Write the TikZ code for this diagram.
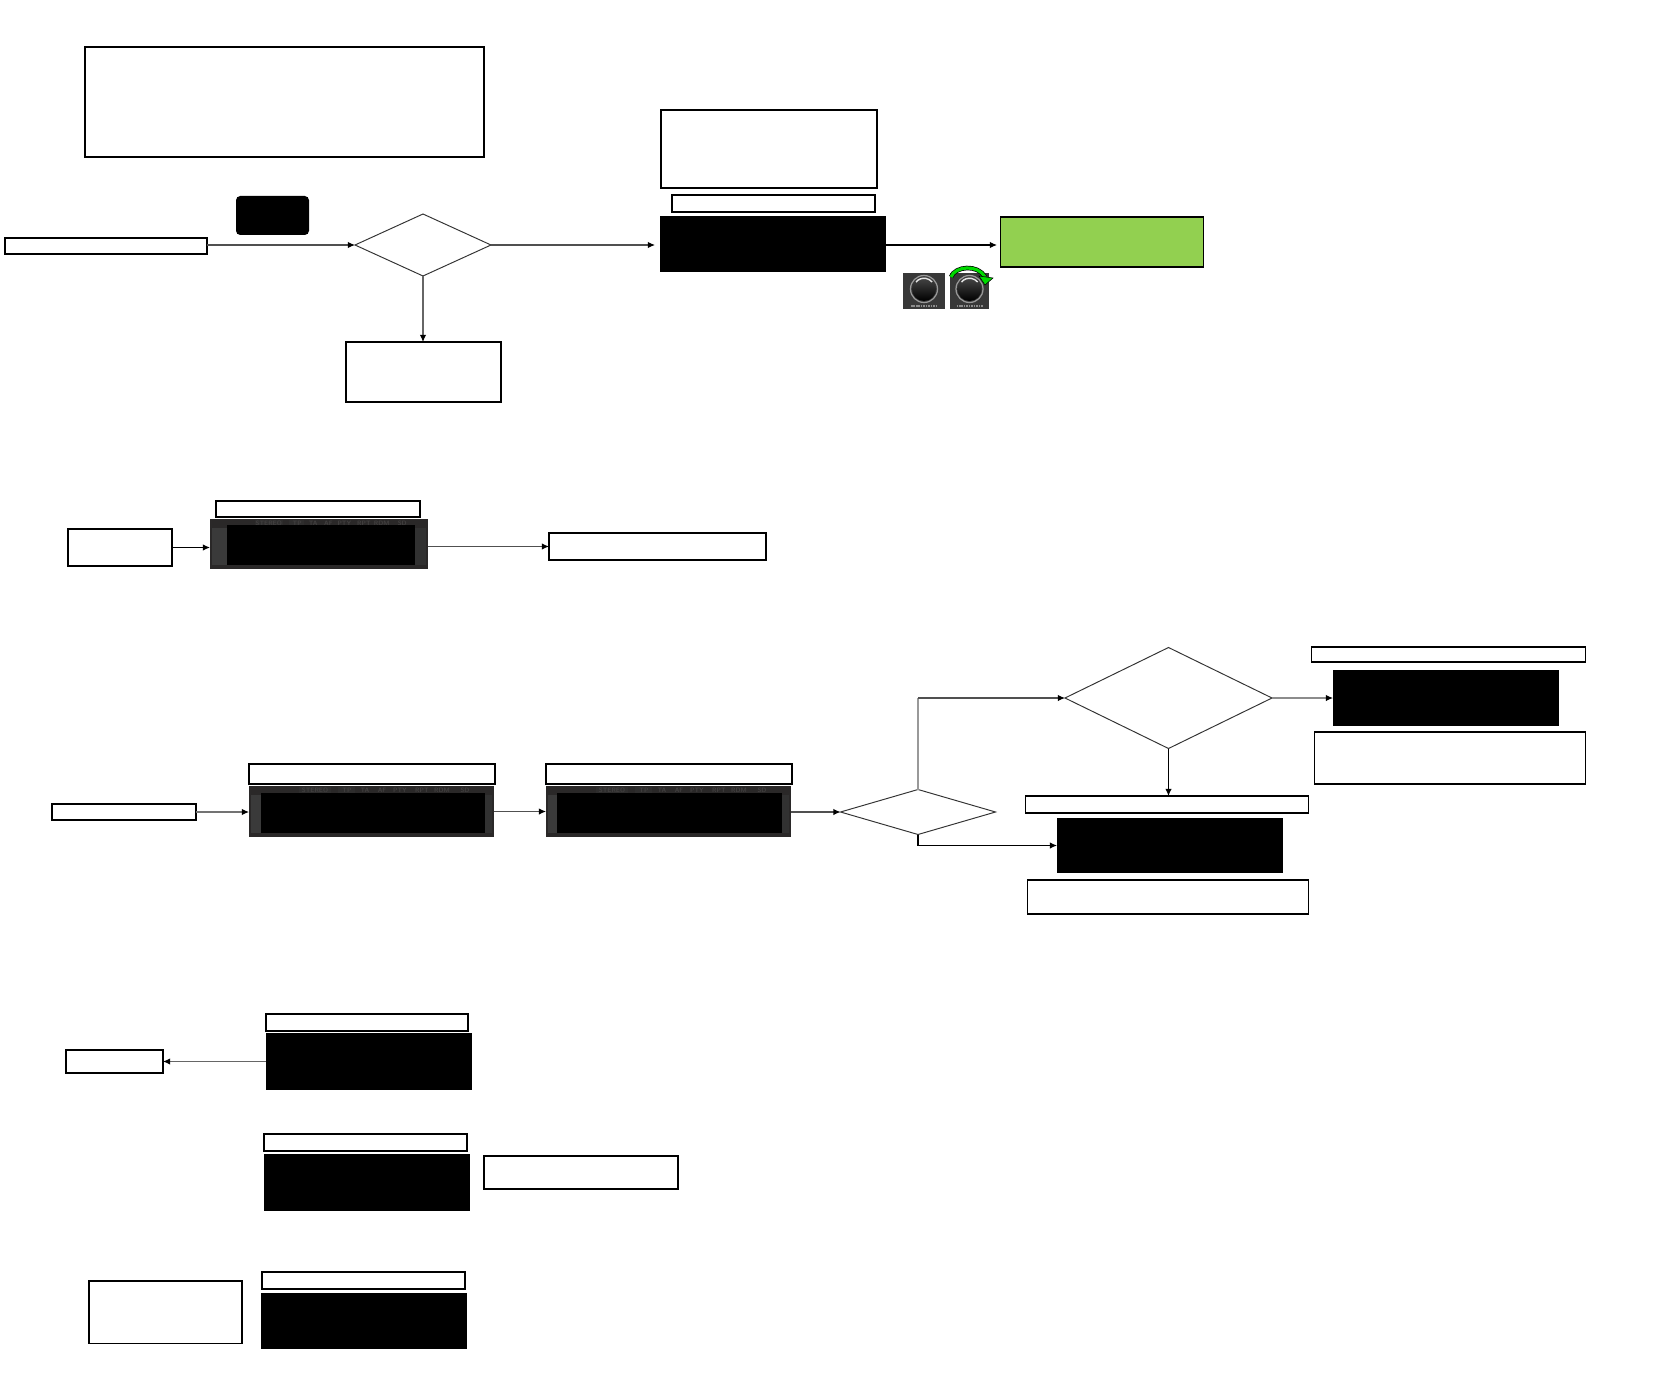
\documentclass[tikz,border=0pt]{standalone}
\usetikzlibrary{arrows.meta,shapes.geometric}
\definecolor{leaf}{RGB}{146,208,80}
\definecolor{panelgrey}{RGB}{42,40,40}
\definecolor{stripgrey}{RGB}{58,58,58}
\definecolor{lampgrey}{RGB}{66,64,64}
\definecolor{wiregrey}{RGB}{80,80,80}
\tikzset{
  plainbox/.style={draw=black,fill=white,line width=.58pt,inner sep=0pt,outer sep=0pt},
  darkbox/.style={fill=black,inner sep=0pt,outer sep=0pt},
  greenbox/.style={draw=black,fill=leaf,line width=.58pt,inner sep=0pt,outer sep=0pt},
  decision/.style={diamond,draw=black!80,fill=white,line width=.55pt,inner sep=0pt,outer sep=0pt},
  wire/.style={draw=wiregrey,line width=.6pt},
  flow/.style={wire,-{Latex[length=4pt,width=3.6pt,black]}}
}
\begin{document}
\begin{tikzpicture}[x = {(0.02cm,0cm)},
  y = {(0cm,-0.02cm)}]

  \def\unit{0.02cm}
  \useasboundingbox (0,0) rectangle (1664,1375);

  % panels
  \foreach \name/\xa/\ya/\xb/\yb/\ia/\ib/\ic/\id/\fac in {
    radioa/210/519/428/569/227/525/415/565/0.89,
    radiob/249/786/494/837/261/793/485/833/1,
    radioc/546/786/791/837/557/793/782/833/1}
  {
    \node[fill=panelgrey,inner sep=0pt,outer sep=0pt,
      minimum width=(\xb-\xa)*\unit,minimum height=(\yb-\ya)*\unit]
      (\name) at ({(\xa+\xb)/2},{(\ya+\yb)/2}) {};
    \fill[stripgrey] (\xa+2,\ya+9) rectangle (\ia,\id);
    \fill[stripgrey!85!black] (\ic,\ya+9) rectangle (\xb-2,\id);
    \fill[lampgrey!70!black] (\xa+50*\fac,\ya+1) rectangle (\xa+82*\fac,\ib);
    \fill[lampgrey!70!black] (\xa+89*\fac,\ya+1) rectangle (\xa+106*\fac,\ib);
    \foreach \txt/\off in {STEREO/66,TP/98,TA/116,AF/133,PTY/151,RPT/173,RDM/193,SD/216}
      \node[text=lampgrey,font=\sffamily\bfseries\fontsize{3.6}{4}\selectfont,inner sep=0pt]
        (\name\txt) at (\xa+\off*\fac,\ya+4) {\txt};
    \node[darkbox,minimum width=(\ic-\ia)*\unit,minimum height=(\id-\ib)*\unit]
      (\name in) at ({(\ia+\ic)/2},{(\ib+\id)/2}) {};
  }

  % white boxes
  \foreach \name/\xa/\ya/\xb/\yb in {
    note/85/47/484/157,
    toptext/661/110/877/188,
    toplabel/672/195/875/212,
    input/5/238/207/254,
    nobox/346/342/501/402,
    keybox/68/529/172/566,
    keylabel/216/501/420/517,
    keyout/549/533/766/560,
    seek/52/804/196/820,
    labela/249/764/495/784,
    labelb/546/764/792/784,
    yeslabel/1311/647/1585/662,
    yestext/1314/732/1585/784,
    midlabel/1025/796/1308/813,
    midtext/1027/880/1308/914,
    backbox/66/1050/163/1073,
    backlabel/266/1014/468/1031,
    holdlabel/264/1134/467/1151,
    holdtext/484/1156/678/1189,
    lastbox/89/1281/242/1343,
    lastlabel/262/1272/465/1289}
  \node[plainbox,minimum width=(\xb-\xa)*\unit,minimum height=(\yb-\ya)*\unit]
    (\name) at ({(\xa+\xb)/2},{(\ya+\yb)/2}) {};

  % black boxes
  \foreach \name/\xa/\ya/\xb/\yb in {
    topscreen/660/216/886/272,
    yesscreen/1333/670/1559/726,
    midscreen/1057/818/1283/873,
    backscreen/266/1033/472/1090,
    holdscreen/264/1154/470/1211,
    lastscreen/261/1293/467/1349}
  \node[darkbox,minimum width=(\xb-\xa)*\unit,minimum height=(\yb-\ya)*\unit]
    (\name) at ({(\xa+\xb)/2},{(\ya+\yb)/2}) {};

  \node[darkbox,rounded corners=2.4pt,minimum width=73*\unit,minimum height=39*\unit]
    (badge) at (272.5,215.5) {};
  \node[greenbox,minimum width=203*\unit,minimum height=50*\unit] (result) at (1101.5,242) {};

  % decisions
  \node[decision,minimum width=136*\unit,minimum height=62*\unit] (ask) at (423,245) {};
  \node[decision,minimum width=155*\unit,minimum height=45*\unit] (split) at (918,812) {};
  \node[decision,minimum width=207*\unit,minimum height=101*\unit] (branch) at (1168.5,698) {};

  % knobs
  \foreach \name/\xa/\xb in {knoba/903/945,knobb/950/989}
  {
    \node[fill=black!78,inner sep=0pt,outer sep=0pt,
      minimum width=(\xb-\xa)*\unit,minimum height=36*\unit]
      (\name) at ({(\xa+\xb)/2},291) {};
    \shade[top color=black!72,bottom color=black] ({(\xa+\xb)/2},289) circle (12*\unit);
    \draw[black!40,line width=.7pt] ({(\xa+\xb)/2},289) circle (13.5*\unit);
    \draw[black!10,line width=.8pt] ({(\xa+\xb)/2-8},282) arc[start angle=140,end angle=40,radius=10.5*\unit];
    \draw[black!45,line width=.6pt,dash pattern=on .9pt off .5pt]
      ({(\xa+\xb)/2-13},306) -- ({(\xa+\xb)/2+13},306);
  }
  \draw[black,line width=2.6pt] (951,277) .. controls (955,266) and (978,264) .. (985,277);
  \draw[green!85!black,line width=1.8pt] (951,277) .. controls (955,266) and (978,264) .. (985,277);
  \fill[green!85!black,draw=black,line width=.3pt] (979,276) -- (993,278) -- (985,285) -- cycle;

  % connectors
  \draw[flow] (input.east |- ask.west) -- (ask.west);
  \draw[flow,shorten >=5*\unit] (ask.east) -- (ask.east -| topscreen.west);
  \draw[flow,draw=black!60] (ask.south) -- (ask.south |- nobox.north);
  \draw[flow,draw=black,shorten >=3*\unit] (topscreen.east |- ask.east) -- (ask.east -| result.west);

  \draw[flow,draw=black] (keybox) -- (keybox -| radioa.west);
  \draw[flow] (radioa.east |- keyout.west) -- (keyout);

  \draw[flow,draw=black!55] (seek) -- (seek -| radiob.west);
  \draw[flow] (radiob) -- (radioc);
  \draw[flow] (radioc.east |- split.west) -- (split.west);

  \coordinate (bendup) at (split.north |- branch.west);
  \coordinate (benddown) at (split.south |- midscreen.west);
  \draw[wire,draw=black!40,line width=.9pt] (split.north) -- (bendup);
  \draw[flow] (bendup) -- (branch.west);
  \draw[flow,draw=black] (split.south) -- (benddown) -- (midscreen.west);
  \draw[flow,draw=black!45] (branch.east) -- (yesscreen.west |- branch.east);
  \draw[flow,draw=black] (branch.south) -- (midlabel.north -| branch.south);

  \draw[flow,draw=black!60] (backscreen.west |- backbox.east) -- (backbox);

\end{tikzpicture}
\end{document}
